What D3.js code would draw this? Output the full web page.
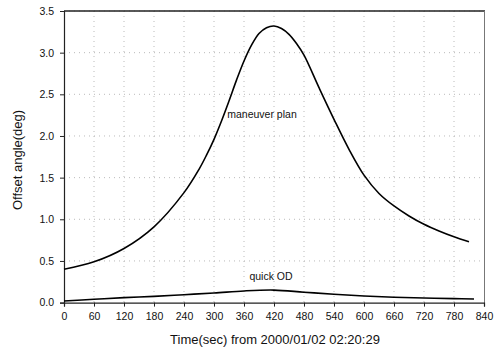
<!DOCTYPE html>
<html><head><meta charset="utf-8">
<script src="https://cdn.jsdelivr.net/npm/d3@7"></script>
<style>body{margin:0;background:#fff;} svg{display:block;font-family:Arial,"Liberation Sans",sans-serif;}</style>
</head><body>
<svg id="c" width="499" height="353"></svg>
<script>
const maneuverT = [0,60,120,180,240,270,285,300,315,330,345,360,375,390,405,420,435,450,465,480,510,540,570,600,630,660,690,720,750,780,810];
const maneuverV = [0.40,0.49,0.65,0.91,1.32,1.60,1.77,1.96,2.18,2.42,2.67,2.90,3.09,3.23,3.30,3.32,3.29,3.22,3.11,2.97,2.58,2.20,1.84,1.53,1.31,1.16,1.04,0.94,0.86,0.79,0.73];
const quickT = [0,60,120,180,240,300,360,420,480,540,600,660,720,780,820];
const quickV = [0.02,0.04,0.06,0.075,0.095,0.115,0.14,0.15,0.125,0.10,0.08,0.065,0.055,0.048,0.043];
const xTicks = [0,60,120,180,240,300,360,420,480,540,600,660,720,780,840];
const yTicks = [0,0.5,1.0,1.5,2.0,2.5,3.0,3.5];
const labels = [{text:"maneuver plan", t:396, v:2.22},{text:"quick OD", t:414, v:0.27}];

const svg = d3.select("#c");
const x = d3.scaleLinear().domain([0,840]).range([64,484]);
const y = d3.scaleLinear().domain([0,3.5]).range([302.6,11]);

// gridlines
const g = svg.append("g");
g.selectAll("line.h").data(yTicks.slice(1)).enter().append("line")
  .attr("x1",64).attr("x2",484).attr("y1",d=>y(d)).attr("y2",d=>y(d))
  .attr("stroke","#aaa").attr("stroke-width",0.8).attr("stroke-dasharray","1,4");
g.selectAll("line.v").data(xTicks.slice(1,-1)).enter().append("line")
  .attr("y1",11).attr("y2",302.6).attr("x1",d=>x(d)).attr("x2",d=>x(d))
  .attr("stroke","#aaa").attr("stroke-width",0.8).attr("stroke-dasharray","1,4");

// frame top/right
svg.append("line").attr("x1",64).attr("x2",485).attr("y1",11).attr("y2",11).attr("stroke","#222").attr("stroke-width",1.5);
svg.append("line").attr("x1",484.5).attr("x2",484.5).attr("y1",11).attr("y2",302.6).attr("stroke","#777").attr("stroke-width",1);

// axes
const xAxis = svg.append("g").attr("transform","translate(0,302.6)")
  .call(d3.axisBottom(x).tickValues(xTicks).tickFormat(d3.format("d")).tickSize(4).tickPadding(6));
const yAxis = svg.append("g").attr("transform","translate(64,0)")
  .call(d3.axisLeft(y).tickValues(yTicks).tickFormat(d3.format(".1f")).tickSize(4).tickPadding(6));
[xAxis,yAxis].forEach(a=>{
  a.select(".domain").attr("stroke","#222").attr("stroke-width",1.2);
  a.selectAll(".tick line").attr("stroke","#222");
  a.selectAll("text").attr("font-size",10.5).attr("fill","#111").attr("font-family","Arial, 'Liberation Sans', sans-serif");
});

// lines
const line = d3.line().x(d=>x(d[0])).y(d=>y(d[1])).curve(d3.curveCatmullRom.alpha(0.5));
svg.append("path").datum(maneuverT.map((t,i)=>[t,maneuverV[i]]))
  .attr("d",line).attr("fill","none").attr("stroke","#000").attr("stroke-width",1.6);
svg.append("path").datum(quickT.map((t,i)=>[t,quickV[i]]))
  .attr("d",line).attr("fill","none").attr("stroke","#000").attr("stroke-width",1.6);

// annotations
svg.selectAll("text.lab").data(labels).enter().append("text")
  .attr("x",d=>x(d.t)).attr("y",d=>y(d.v)).attr("text-anchor","middle")
  .attr("font-size",10.5).attr("fill","#111").text(d=>d.text);

// axis titles
svg.append("text").attr("x",275).attr("y",344).attr("text-anchor","middle")
  .attr("font-size",13).attr("fill","#111").text("Time(sec) from 2000/01/02 02:20:29");
svg.append("text").attr("transform","translate(22,160) rotate(-90)").attr("text-anchor","middle")
  .attr("font-size",13).attr("fill","#111").text("Offset angle(deg)");
</script>
</body></html>
